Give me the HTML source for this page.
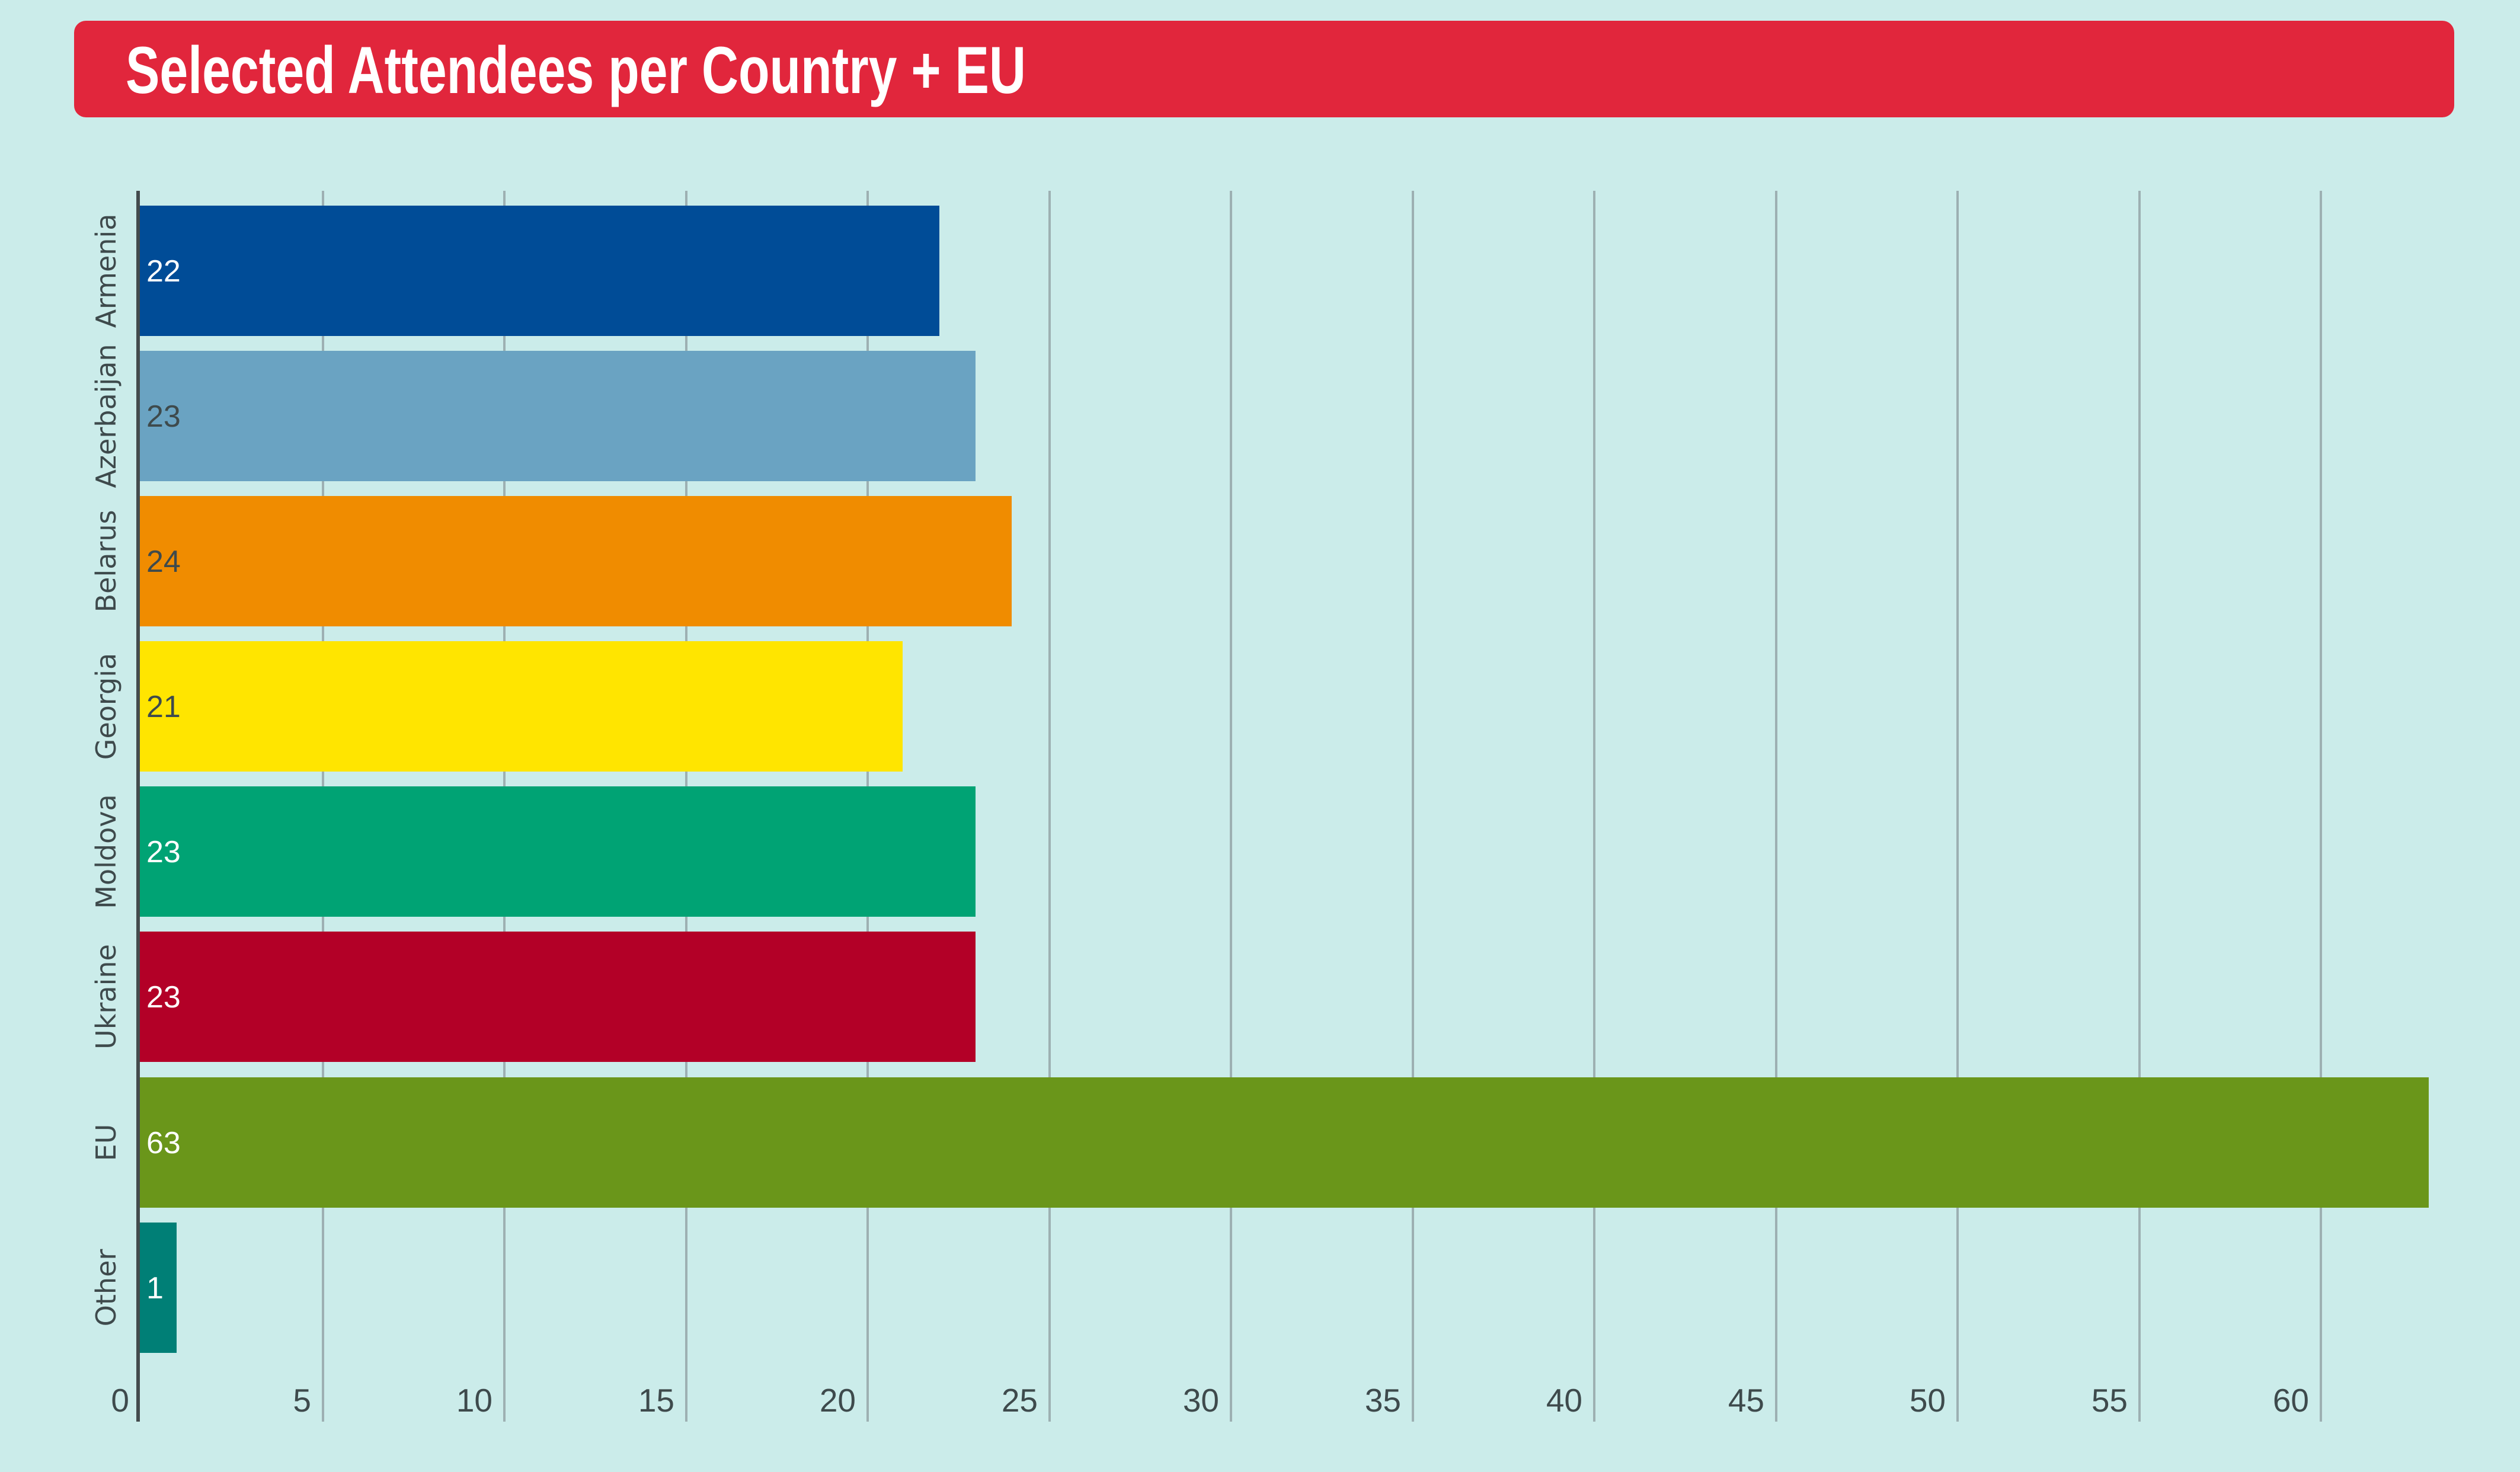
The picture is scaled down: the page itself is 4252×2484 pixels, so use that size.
<!DOCTYPE html>
<html><head><meta charset="utf-8"><style>
html,body{margin:0;padding:0;background:#cbecea;}
svg{display:block;}
</style></head><body>
<svg width="4252" height="2484" xmlns="http://www.w3.org/2000/svg">
<rect width="4252" height="2484" fill="#cbecea"/>
<rect x="125" y="35" width="4016" height="163" rx="20" fill="#e1263c"/>
<text x="212" y="157" font-family="Liberation Sans Narrow, Liberation Sans, sans-serif" font-weight="bold" font-size="112" fill="#fff" textLength="1519" lengthAdjust="spacingAndGlyphs">Selected Attendees per Country + EU</text>
<g stroke="#9db0b2" stroke-width="4">
<line x1="545" y1="322" x2="545" y2="2399"/>
<line x1="851" y1="322" x2="851" y2="2399"/>
<line x1="1158" y1="322" x2="1158" y2="2399"/>
<line x1="1464" y1="322" x2="1464" y2="2399"/>
<line x1="1771" y1="322" x2="1771" y2="2399"/>
<line x1="2077" y1="322" x2="2077" y2="2399"/>
<line x1="2384" y1="322" x2="2384" y2="2399"/>
<line x1="2690" y1="322" x2="2690" y2="2399"/>
<line x1="2997" y1="322" x2="2997" y2="2399"/>
<line x1="3303" y1="322" x2="3303" y2="2399"/>
<line x1="3610" y1="322" x2="3610" y2="2399"/>
<line x1="3916" y1="322" x2="3916" y2="2399"/>
</g>
<rect x="236" y="347" width="1349" height="220" fill="#004c97"/>
<rect x="236" y="592" width="1410" height="220" fill="#6aa3c2"/>
<rect x="236" y="837" width="1471" height="220" fill="#f08c00"/>
<rect x="236" y="1082" width="1287" height="220" fill="#ffe500"/>
<rect x="236" y="1327" width="1410" height="220" fill="#00a374"/>
<rect x="236" y="1572" width="1410" height="220" fill="#b30027"/>
<rect x="236" y="1818" width="3862" height="220" fill="#6a961a"/>
<rect x="236" y="2063" width="62" height="220" fill="#007f76"/>
<line x1="233" y1="322" x2="233" y2="2399" stroke="#444b4d" stroke-width="6"/>
<g font-family="Liberation Sans Narrow, Liberation Sans, sans-serif" font-size="52">
<text x="247" y="475" fill="#fff">22</text>
<text x="247" y="720" fill="#3e4a4c">23</text>
<text x="247" y="965" fill="#3e4a4c">24</text>
<text x="247" y="1210" fill="#3e4a4c">21</text>
<text x="247" y="1455" fill="#fff">23</text>
<text x="247" y="1700" fill="#fff">23</text>
<text x="247" y="1946" fill="#fff">63</text>
<text x="247" y="2191" fill="#fff">1</text>
</g>
<g font-family="Liberation Sans Narrow, Liberation Sans, sans-serif" font-size="55" fill="#3e4a4c" text-anchor="end">
<text x="218" y="2382">0</text>
<text x="525" y="2382">5</text>
<text x="831" y="2382">10</text>
<text x="1138" y="2382">15</text>
<text x="1444" y="2382">20</text>
<text x="1751" y="2382">25</text>
<text x="2057" y="2382">30</text>
<text x="2364" y="2382">35</text>
<text x="2670" y="2382">40</text>
<text x="2977" y="2382">45</text>
<text x="3283" y="2382">50</text>
<text x="3590" y="2382">55</text>
<text x="3896" y="2382">60</text>
</g>
<g font-family="DejaVu Sans, Liberation Sans, sans-serif" font-size="46" fill="#3e4a4c" text-anchor="middle">
<text transform="translate(195,457) rotate(-90)">Armenia</text>
<text transform="translate(195,702) rotate(-90)">Azerbaijan</text>
<text transform="translate(195,947) rotate(-90)">Belarus</text>
<text transform="translate(195,1192) rotate(-90)">Georgia</text>
<text transform="translate(195,1437) rotate(-90)">Moldova</text>
<text transform="translate(195,1682) rotate(-90)">Ukraine</text>
<text transform="translate(195,1928) rotate(-90)">EU</text>
<text transform="translate(195,2173) rotate(-90)">Other</text>
</g>
</svg>
</body></html>
